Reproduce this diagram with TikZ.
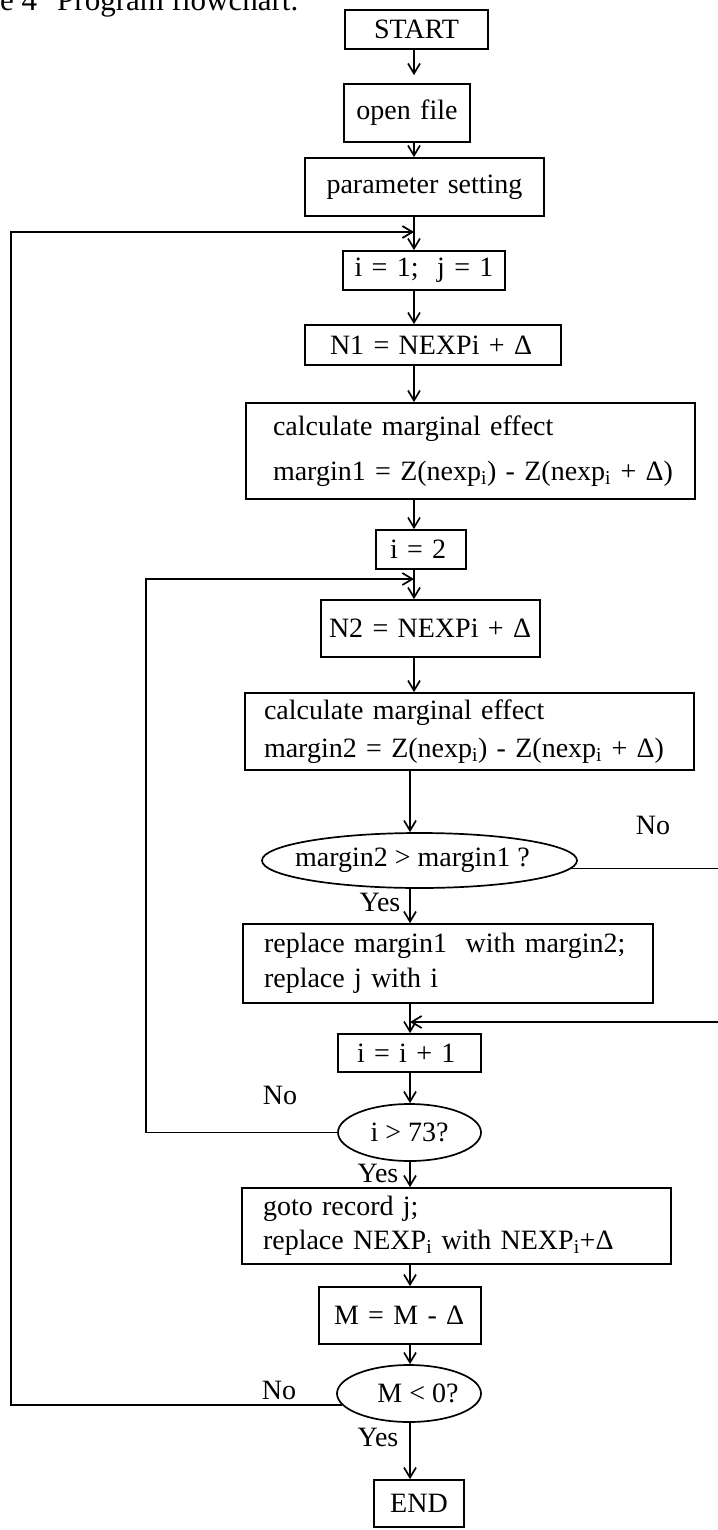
\documentclass[tikz,border=0pt]{standalone}
\usepackage{fontspec}
\setmainfont{Liberation Serif}
\usetikzlibrary{arrows.meta,shapes.geometric}
\begin{document}
\begin{tikzpicture}[x=1pt,y=-1pt,
  every node/.style={font=\fontsize{28}{33.6}\selectfont},
  box/.style={draw, rectangle, line width=1.7pt, inner ysep=0pt, inner xsep=4pt, align=center},
  lbox/.style={draw, rectangle, line width=1.7pt, inner ysep=0pt, align=left},
  dec/.style={draw, ellipse, line width=1.7pt, inner sep=0pt},
  lbl/.style={inner sep=0pt},
  arr/.style={line width=1.7pt, -{Straight Barb[length=10pt,width=12pt]}}
]
\useasboundingbox (0,0) rectangle (717,1530);

% title (cut by the page edge, as in the reference)
\node[anchor=base west, inner sep=0pt, font=\fontsize{31}{37}\selectfont] (title) at (0,11) {e 4\hspace{20pt}Program flowchart.};

% boxes
\node[box, text width=135pt, minimum height=39pt] (start) at (416.5,29.5) {START};
\node[box, text width=118pt, minimum height=58pt] (open) at (407,113) {open file};
\node[box, text width=231pt, minimum height=58pt] (param) at (424.5,187) {parameter setting};
\node[box, text width=154pt, minimum height=39pt] (i1) at (424,270.5) {i = 1;\ \ j = 1};
\node[lbox, inner xsep=25pt, text width=206pt, minimum height=40pt] (n1) at (433,345) {\mbox{N1 = NEXPi + Δ}};
\node[lbox, inner xsep=27pt, text width=395pt, minimum height=96pt] (c1) at (470.5,451)
  {\mbox{calculate marginal effect}\\[11pt]\mbox{margin1 = Z(nexp\textsubscript{i}) - Z(nexp\textsubscript{i} + Δ)}};
\node[lbox, inner xsep=14pt, text width=62pt, minimum height=39pt] (i2) at (421,549.5) {i = 2};
\node[lbox, inner xsep=8pt, text width=203pt, minimum height=57pt] (n2) at (430.5,628.5) {\mbox{N2 = NEXPi + Δ}};
\node[lbox, inner xsep=19pt, text width=411pt, minimum height=77pt] (c2) at (469.5,731.5)
  {\mbox{calculate marginal effect}\\[4pt]\mbox{margin2 = Z(nexp\textsubscript{i}) - Z(nexp\textsubscript{i} + Δ)}};
\node[dec, minimum width=315pt, minimum height=55pt] (d1) at (419.5,860.5) {\makebox[0pt]{\hspace*{-14pt}margin2 > margin1 ?}};
\node[lbox, inner xsep=21pt, text width=368pt, minimum height=79pt] (rep) at (448,963.5)
  {\mbox{replace margin1\ \ with margin2;}\\[1pt]\mbox{replace j with i}};
\node[lbox, inner xsep=19pt, text width=105pt, minimum height=38pt] (inc) at (409.5,1053) {\raisebox{-8pt}{i = i + 1}};
\node[dec, minimum width=143pt, minimum height=57pt] (d2) at (409.5,1132.5) {\makebox[0pt]{i > 73?}};
\node[lbox, inner xsep=21pt, text width=387pt, minimum height=76pt] (go) at (456.5,1226)
  {\mbox{goto record j;}\\\mbox{replace NEXP\textsubscript{i} with NEXP\textsubscript{i}+Δ}};
\node[lbox, inner xsep=15pt, text width=132pt, minimum height=57pt] (mb) at (400,1315.5) {\mbox{M = M - Δ}};
\node[dec, minimum width=144pt, minimum height=57pt] (d3) at (409,1393.5) {\makebox[0pt]{\hspace*{18pt}M < 0?}};
\node[box, text width=82pt, minimum height=47pt] (end) at (419,1503.5) {END};

% labels
\node[lbl] (no1) at (653,825) {No};
\node[lbl] (yes1) at (380,902) {Yes};
\node[lbl] (no2) at (280,1095) {No};
\node[lbl] (yes2) at (378,1173) {Yes};
\node[lbl] (no3) at (279,1390) {No};
\node[lbl] (yes3) at (378,1437) {Yes};

% helper coordinates
\coordinate (ax1) at (414,0);
\coordinate (ax2) at (410,0);
\coordinate (L1) at (11,0);
\coordinate (L2) at (146,0);
\coordinate (R) at (726,0);
\coordinate (j1) at (414,232);
\coordinate (j2) at (414,579);
\coordinate (j3) at (410,1022);

% main flow
\draw[arr, shorten >=8pt] (start.south -| ax1) -- (open.north -| ax1);
\draw[arr] (open.south -| ax1) -- (param.north -| ax1);
\draw[arr] (param.south -| ax1) -- (i1.north -| ax1);
\draw[arr] (i1.south -| ax1) -- (n1.north -| ax1);
\draw[arr] (n1.south -| ax1) -- (c1.north -| ax1);
\draw[arr] (c1.south -| ax1) -- (i2.north -| ax1);
\draw[arr] (i2.south -| ax1) -- (n2.north -| ax1);
\draw[arr] (n2.south -| ax1) -- (c2.north -| ax1);
\draw[arr] (c2.south -| ax2) -- (d1.north -| ax2);
\draw[arr] (d1.south -| ax2) -- (rep.north -| ax2);
\draw[arr] (rep.south -| ax2) -- (inc.north -| ax2);
\draw[arr] (inc.south -| ax2) -- (d2.north -| ax2);
\draw[arr] (d2.south -| ax2) -- (go.north -| ax2);
\draw[arr] (go.south -| ax2) -- (mb.north -| ax2);
\draw[arr] (mb.south -| ax2) -- (d3.north -| ax2);
\draw[arr] (d3.south -| ax2) -- (end.north -| ax2);

% loops
\draw[arr] (d3.190) -- (d3.190 -| L1) -- (j1 -| L1) -- (j1);
\draw[arr] (d2.west) -- (d2.west -| L2) -- (j2 -| L2) -- (j2);
\draw[arr] (d1.-3) -- (d1.-3 -| R) -- (j3 -| R) -- (j3);
\end{tikzpicture}
\end{document}
